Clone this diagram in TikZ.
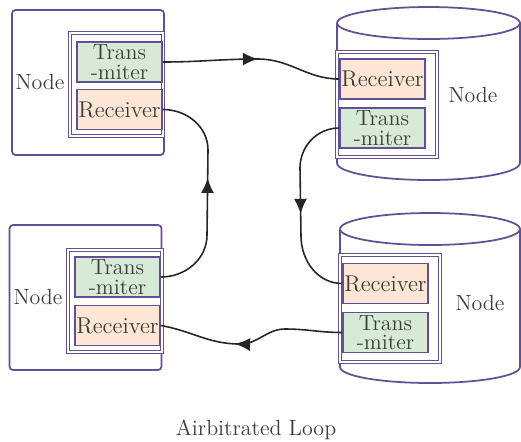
\documentclass[tikz,border=0pt]{standalone}
\usetikzlibrary{arrows.meta, decorations.markings}

\definecolor{edgepurple}{RGB}{98,80,150}
\definecolor{txgreen}{RGB}{214,234,214}
\definecolor{rxorange}{RGB}{253,230,212}
\definecolor{labelgray}{RGB}{60,60,60}

\begin{document}
\begin{tikzpicture}[
    x=0.02cm, y=-0.02cm,
    host/.style={rectangle, draw=edgepurple, line width=1pt, rounded corners=2pt,
                 minimum width=3.04cm, minimum height=2.9cm, inner sep=0pt},
    portframe/.style={rectangle, draw=edgepurple, line width=0.8pt, double=white,
                 double distance=1.2pt, inner sep=0pt},
    tx/.style={rectangle, draw=edgepurple, line width=1pt, fill=txgreen,
                 minimum width=1.7cm, minimum height=0.8cm, inner sep=0pt,
                 align=center, text=labelgray, font=\fontsize{12.5}{11.2}\selectfont},
    rx/.style={tx, fill=rxorange, font=\fontsize{13}{14}\selectfont},
    lbl/.style={text=labelgray, font=\fontsize{12.5}{14}\selectfont},
    cyl/.style={draw=edgepurple, line width=1pt},
    link/.style={draw=black!85, line width=0.9pt, postaction={decorate},
                 decoration={markings, mark=at position #1 with
                 {\arrow{Latex[length=3mm, width=2.6mm]}}}}
]
\useasboundingbox (0,0) rectangle (521,441);

% left hand nodes
\node[host] (tl) at (88,82.5) {};
\node[portframe, minimum width=1.86cm, minimum height=2.06cm] (tlframe) at (116.5,84.5) {};
\node[tx] (tltx) at (119.5,62) {Trans\\-miter};
\node[rx] (tlrx) at (119.5,109.5) {Receiver};
\node[lbl] (tlname) at (40,82) {Node};

\node[host] (bl) at (85.5,297.5) {};
\node[portframe, minimum width=1.88cm, minimum height=2.04cm] (blframe) at (115,301) {};
\node[tx] (bltx) at (117.5,277) {Trans\\-miter};
\node[rx] (blrx) at (117.5,325.5) {Receiver};
\node[lbl] (blname) at (38,297) {Node};

% right hand nodes (cylinders)
\draw[cyl] (337,23) -- (337,163) arc[start angle=180, end angle=360,
    x radius=1.83cm, y radius=0.34cm] -- (520,23);
\draw[cyl] (428.5,23) ellipse [x radius=1.83cm, y radius=0.32cm];
\node[portframe, minimum width=2cm, minimum height=2.1cm] (trframe) at (387,104.5) {};
\node[rx] (trrx) at (382.5,79) {Receiver};
\node[tx] (trtx) at (382.5,128) {Trans\\-miter};
\node[lbl] (trname) at (473,95) {Node};

\draw[cyl] (340,229) -- (340,367) arc[start angle=180, end angle=360,
    x radius=1.8cm, y radius=0.32cm] -- (520,229);
\draw[cyl] (430,229) ellipse [x radius=1.8cm, y radius=0.32cm];
\node[portframe, minimum width=2cm, minimum height=2.14cm] (brframe) at (390,308.5) {};
\node[rx] (brrx) at (385.5,283.5) {Receiver};
\node[tx] (brtx) at (385.5,332.5) {Trans\\-miter};
\node[lbl] (brname) at (480,303) {Node};

% the loop
\draw[link=0.53] (tltx.east) to[out=0,in=180] (258,59) to[out=0,in=180] (trrx.west);
\draw[link=0.54] (trtx.west) to[out=180,in=90] (300,168) -- (301,236) to[out=-90,in=180] (brrx.west);
\draw[link=0.59] (brtx.west) to[out=180,in=0] (285,329) to[out=180,in=0] (240,344) to[out=180,in=-10] (blrx.east);
\draw[link=0.57] (bltx.east) to[out=0,in=-90] (207,235) -- (208,150) to[out=90,in=0] (tlrx.east);

\node[lbl] (title) at (256,430) {Airbitrated Loop};
\end{tikzpicture}
\end{document}
